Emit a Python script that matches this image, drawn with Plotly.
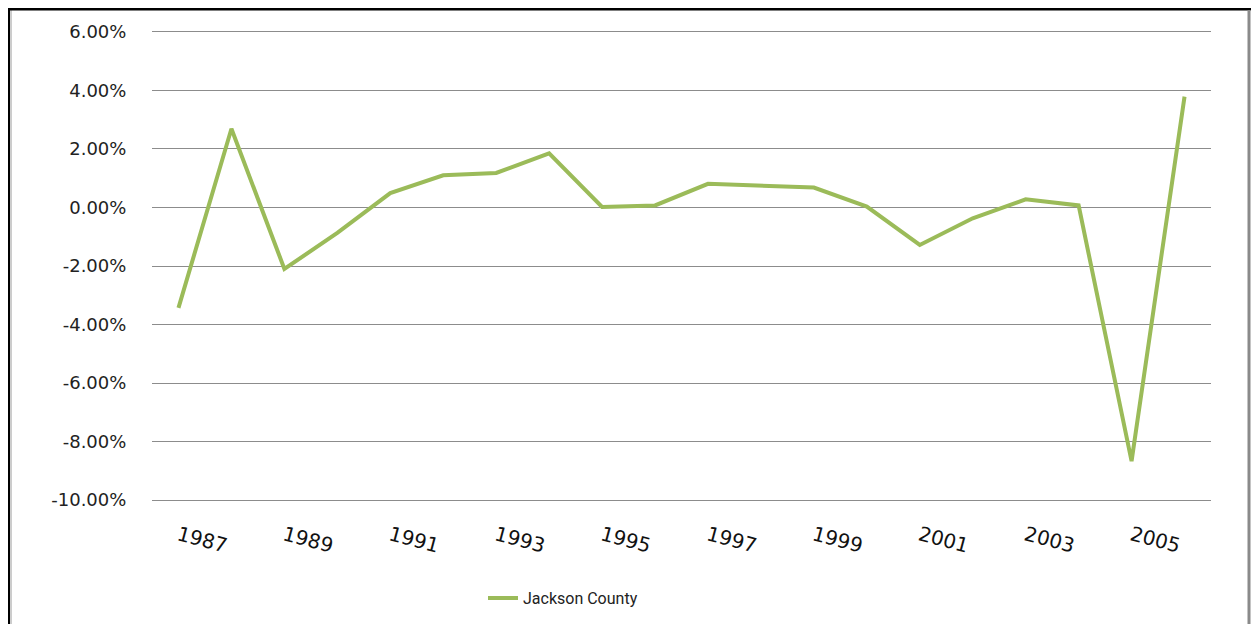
import plotly.graph_objects as go

years = list(range(1987, 2007))
jackson_county = [-3.43, 2.69, -2.10, -0.87, 0.49, 1.10, 1.18, 1.85, 0.02, 0.07,
                  0.81, 0.74, 0.68, 0.03, -1.28, -0.37, 0.28, 0.07, -8.67, 3.79]
y_ticks = [6, 4, 2, 0, -2, -4, -6, -8, -10]
y_tick_labels = ["6.00%", "4.00%", "2.00%", "0.00%", "-2.00%", "-4.00%", "-6.00%", "-8.00%", "-10.00%"]
x_ticks = list(range(1987, 2006, 2))
x_tick_labels = [str(y) for y in x_ticks]

# page body has an 8px margin; work in page coordinates and convert
OFF = 8
PAD = 0.1            # extra axis range so edge gridlines get drawn
PPU = (500 - 32) / 16.0
W, H = 1259 - OFF, 624 - OFF
L = 152 - OFF
R = 1259 - 1211
T = 32 - OFF - PAD * PPU
B = (OFF + H) - 500 - PAD * PPU
pw, ph = W - L - R, H - T - B

def px(x):
    return (x - OFF - L) / pw

def py(y):
    return (H - B - (y - OFF)) / ph

fig = go.Figure()
fig.add_trace(go.Scatter(
    x=years, y=jackson_county, mode="lines", name="Jackson County",
    line=dict(color="#9BBB59", width=4),
))

fig.update_layout(
    width=W, height=H,
    margin=dict(l=L, r=R, t=T, b=B, autoexpand=False),
    paper_bgcolor="white", plot_bgcolor="white",
    showlegend=True,
    legend=dict(
        orientation="h", x=px(483), xanchor="left", y=py(598), yanchor="middle",
        font=dict(family="Liberation Sans Narrow, Roboto, sans-serif", size=16, color="#222"),
        bgcolor="rgba(0,0,0,0)",
    ),
    xaxis=dict(
        range=[1986.5, 2006.5], tickmode="array", tickvals=x_ticks, ticktext=x_tick_labels,
        tickangle=15, showgrid=False, zeroline=False, showline=False,
        ticks="outside", ticklen=12, tickcolor="rgba(0,0,0,0)",
        tickfont=dict(family="Verdana, DejaVu Sans, sans-serif", size=20, color="#111"),
    ),
    yaxis=dict(
        range=[-10 - PAD, 6 + PAD], tickmode="array", tickvals=y_ticks, ticktext=y_tick_labels,
        showgrid=True, gridcolor="#8c8c8c", gridwidth=1,
        zeroline=True, zerolinecolor="#8c8c8c", zerolinewidth=1, showline=False,
        ticks="outside", ticklen=21, tickcolor="rgba(0,0,0,0)",
        tickfont=dict(family="Verdana, DejaVu Sans, sans-serif", size=18, color="#222"),
    ),
    shapes=[
        dict(type="line", xref="paper", yref="paper", x0=px(8), x1=px(8), y0=py(8), y1=py(640),
             line=dict(color="black", width=4)),
        dict(type="line", xref="paper", yref="paper", x0=px(11), x1=px(11), y0=py(10), y1=py(640),
             line=dict(color="#9a9a9a", width=1)),
        dict(type="line", xref="paper", yref="paper", x0=px(6), x1=px(1259), y0=py(9), y1=py(9),
             line=dict(color="black", width=3)),
        dict(type="line", xref="paper", yref="paper", x0=px(1249), x1=px(1249), y0=py(10), y1=py(640),
             line=dict(color="#8a8a8a", width=3)),
    ],
)

fig.write_html("out.html")
